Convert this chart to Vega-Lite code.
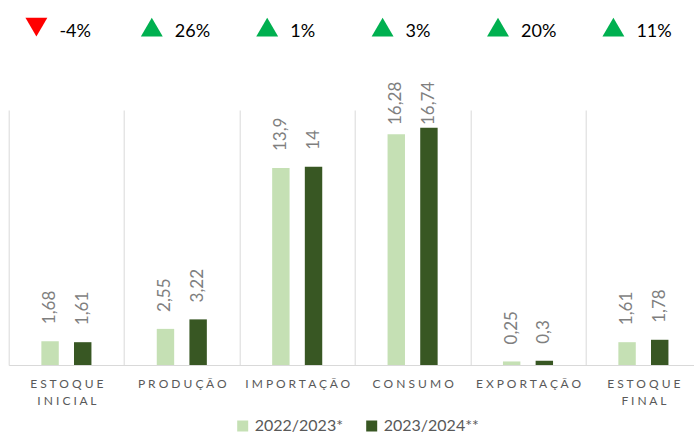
{
  "$schema": "https://vega.github.io/schema/vega-lite/v6.json",
  "width": 685.3,
  "height": 255,
  "autosize": {"type": "none"},
  "padding": {"left": 8.7, "top": 110, "right": 0, "bottom": 69},
  "config": {
    "view": {"stroke": null},
    "font": "Lato",
    "locale": {"number": {"decimal": ",", "thousands": ".", "grouping": [3], "currency": ["R$", ""], "minus": "-"}}
  },
  "datasets": {
    "bars": [
      {"item": "ESTOQUE INICIAL", "series": "2022/2023*", "value": 1.68},
      {"item": "ESTOQUE INICIAL", "series": "2023/2024**", "value": 1.61},
      {"item": "PRODUÇÃO", "series": "2022/2023*", "value": 2.55},
      {"item": "PRODUÇÃO", "series": "2023/2024**", "value": 3.22},
      {"item": "IMPORTAÇÃO", "series": "2022/2023*", "value": 13.9},
      {"item": "IMPORTAÇÃO", "series": "2023/2024**", "value": 14},
      {"item": "CONSUMO", "series": "2022/2023*", "value": 16.28},
      {"item": "CONSUMO", "series": "2023/2024**", "value": 16.74},
      {"item": "EXPORTAÇÃO", "series": "2022/2023*", "value": 0.25},
      {"item": "EXPORTAÇÃO", "series": "2023/2024**", "value": 0.3},
      {"item": "ESTOQUE FINAL", "series": "2022/2023*", "value": 1.61},
      {"item": "ESTOQUE FINAL", "series": "2023/2024**", "value": 1.78}
    ],
    "changes": [
      {"item": "ESTOQUE INICIAL", "change": -0.04, "dir": "down"},
      {"item": "PRODUÇÃO", "change": 0.26, "dir": "up"},
      {"item": "IMPORTAÇÃO", "change": 0.01, "dir": "up"},
      {"item": "CONSUMO", "change": 0.03, "dir": "up"},
      {"item": "EXPORTAÇÃO", "change": 0.20, "dir": "up"},
      {"item": "ESTOQUE FINAL", "change": 0.11, "dir": "up"}
    ]
  },
  "layer": [
    {
      "data": {"name": "bars"},
      "mark": {"type": "bar"},
      "encoding": {
        "x": {
          "field": "item", "type": "nominal",
          "scale": {
            "domain": ["ESTOQUE INICIAL", "PRODUÇÃO", "IMPORTAÇÃO", "CONSUMO", "EXPORTAÇÃO", "ESTOQUE FINAL"],
            "range": [0, 692.4], "paddingInner": 0, "paddingOuter": 0
          },
          "axis": {
            "title": null, "domainColor": "#d9d9d9", "ticks": false,
            "grid": true, "gridColor": "#d9d9d9", "tickBand": "extent",
            "labelColor": "#595959", "labelFontSize": 12, "labelPadding": 13,
            "labelBaseline": "top", "labelLineHeight": 17, "labelAngle": 0,
            "labelOverlap": false, "labelBound": false,
            "labelExpr": "isString(datum.value) ? split(replace(join(split(datum.value, ''), ' '), '   ', '|'), '|') : ''"
          }
        },
        "xOffset": {
          "field": "series", "type": "nominal",
          "scale": {"paddingInner": 0.4667, "paddingOuter": 1.157}
        },
        "y": {"field": "value", "type": "quantitative", "scale": {"domain": [0, 18]}, "axis": null},
        "color": {
          "field": "series", "type": "nominal",
          "scale": {"domain": ["2022/2023*", "2023/2024**"], "range": ["#c5e0b4", "#385723"]},
          "legend": {
            "title": null, "orient": "none", "legendX": 226, "legendY": 308,
            "direction": "horizontal", "symbolType": "square", "symbolSize": 121,
            "symbolStrokeWidth": 0, "labelFontSize": 16, "labelColor": "#595959",
            "columnPadding": 20, "labelOffset": 4
          }
        }
      }
    },
    {
      "data": {"name": "bars"},
      "transform": [{"filter": "datum.value < 15.74"}],
      "mark": {"type": "text", "angle": 270, "align": "left", "baseline": "middle", "dx": 17, "fontSize": 17, "color": "#7f7f7f"},
      "encoding": {
        "x": {"field": "item", "type": "nominal"},
        "xOffset": {"field": "series", "type": "nominal"},
        "y": {"field": "value", "type": "quantitative"},
        "text": {"field": "value", "type": "quantitative", "format": "~g"}
      }
    },
    {
      "data": {"name": "bars"},
      "transform": [{"filter": "datum.value >= 15.74"}],
      "mark": {"type": "text", "angle": 270, "align": "left", "baseline": "middle", "dx": 17, "fontSize": 17, "color": "#7f7f7f"},
      "encoding": {
        "x": {"field": "item", "type": "nominal"},
        "xOffset": {"field": "series", "type": "nominal"},
        "y": {"datum": 15.74, "type": "quantitative"},
        "text": {"field": "value", "type": "quantitative", "format": "~g"}
      }
    },
    {
      "data": {"name": "changes"},
      "mark": {"type": "point", "filled": true, "size": 480, "opacity": 1},
      "encoding": {
        "x": {"field": "item", "type": "nominal"},
        "xOffset": {"value": 27.7},
        "y": {"datum": 23.85, "type": "quantitative"},
        "shape": {"field": "dir", "type": "nominal", "scale": {"domain": ["down", "up"], "range": ["triangle-down", "triangle-up"]}, "legend": null},
        "fill": {"field": "dir", "type": "nominal", "scale": {"domain": ["down", "up"], "range": ["#ff0000", "#00b050"]}, "legend": null}
      }
    },
    {
      "data": {"name": "changes"},
      "mark": {"type": "text", "align": "left", "baseline": "alphabetic", "dx": -7, "dy": 10, "fontSize": 18, "color": "#000000"},
      "encoding": {
        "x": {"field": "item", "type": "nominal"},
        "y": {"datum": 23.85, "type": "quantitative"},
        "text": {"field": "change", "type": "quantitative", "format": ".0%"}
      }
    }
  ]
}
